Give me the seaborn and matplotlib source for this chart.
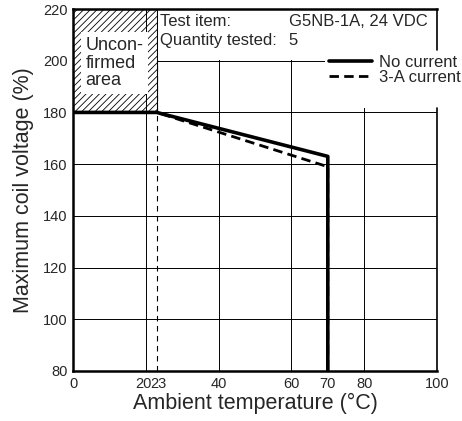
import numpy as np
import pandas as pd
import matplotlib
matplotlib.use('Agg')
import matplotlib.pyplot as plt
import matplotlib.transforms as mtransforms
from matplotlib.patches import Rectangle
import seaborn as sns

# data
temp_no_current = [0, 23, 70, 70]
volt_no_current = [180, 180, 163, 80]
temp_3a_current = [0, 23, 70, 70]
volt_3a_current = [180, 180, 159, 80]

x_ticks = [0, 20, 23, 40, 60, 70, 80, 100]
y_ticks = [80, 100, 120, 140, 160, 180, 200, 220]
x_grid = [20, 40, 60, 80]
y_grid = [100, 120, 140, 160, 180, 200]

sns.set_style('white')
plt.rcParams['font.family'] = ['Liberation Sans', 'DejaVu Sans']
plt.rcParams['hatch.linewidth'] = 0.6

fig = plt.figure(figsize=(4.62, 4.21), dpi=100)
ax = fig.add_axes([73 / 462, 1 - 371 / 421, 364 / 462, 362 / 421])

# grid
for xv in x_grid:
    ax.axvline(xv, color='black', lw=0.7, zorder=1)
for yv in y_grid:
    ax.axhline(yv, color='black', lw=0.7, zorder=1)
ax.axvline(23, color='black', lw=0.8, ls=(0, (5, 4)), zorder=1)

# unconfirmed area (hatched)
ax.add_patch(Rectangle((0, 180), 23, 40, facecolor='white', edgecolor='black',
                       hatch='/////', lw=0.8, zorder=2))
ax.axvline(20, ymin=100 / 140, color='black', lw=0.7, zorder=3)
ax.text(3.4, 199.0, 'Uncon-\nfirmed\narea', fontsize=13, va='center', ha='left',
        linespacing=1.05, zorder=4,
        bbox=dict(facecolor='white', edgecolor='none', pad=3.5))

# blank areas behind the texts
ax.add_patch(Rectangle((23.3, 200.4), 77, 20, facecolor='white', edgecolor='none', zorder=2))
ax.add_patch(Rectangle((69.3, 181.7), 31, 22.5, facecolor='white', edgecolor='none',
                       zorder=2, clip_on=False))

df_no = pd.DataFrame({'x': temp_no_current, 'y': volt_no_current})
df_3a = pd.DataFrame({'x': temp_3a_current, 'y': volt_3a_current})
sns.lineplot(data=df_3a, x='x', y='y', sort=False, estimator=None, ax=ax,
             color='black', lw=2.0, label='3-A current', zorder=5)
ax.lines[-1].set_linestyle((0, (3.4, 1.9)))
sns.lineplot(data=df_no, x='x', y='y', sort=False, estimator=None, ax=ax,
             color='black', lw=2.6, label='No current', zorder=6)

ax.set_xlim(0, 100)
ax.set_ylim(80, 220)
ax.set_xticks(x_ticks)
ax.set_xticklabels(['0', '20', '23', '40', '60', '70', '80', '100'])
ax.set_yticks(y_ticks)
ax.tick_params(length=0, labelsize=10.5, pad=4)
# nudge the crowded 20 / 23 labels apart
for lbl, dx in zip(ax.get_xticklabels(), [0, -2, 2, 0, 0, 0, 0, 0]):
    lbl.set_transform(lbl.get_transform() +
                      mtransforms.ScaledTranslation(dx / 100, 0, fig.dpi_scale_trans))

ax.set_xlabel('Ambient temperature (°C)', fontsize=15.5, labelpad=2)
ax.set_ylabel('Maximum coil voltage (%)', fontsize=15.5, labelpad=6)

for side in ['left', 'bottom', 'top']:
    ax.spines[side].set_linewidth(1.8)
    ax.spines[side].set_color('black')
# right border has a gap where the legend sits
ax.spines['right'].set_visible(False)
ax.axvline(100, ymin=0, ymax=(181.7 - 80) / 140, color='black', lw=1.2,
           clip_on=False, zorder=3)
ax.axvline(100, ymin=(204 - 80) / 140, ymax=1, color='black', lw=1.2,
           clip_on=False, zorder=3)

ax.text(24.0, 215, 'Test item:', fontsize=12, va='center', zorder=4)
ax.text(24.0, 208, 'Quantity tested:', fontsize=12, va='center', zorder=4)
ax.text(59.3, 215, 'G5NB-1A, 24 VDC', fontsize=12, va='center', zorder=4)
ax.text(59.3, 208, '5', fontsize=12, va='center', zorder=4)

handles, labels = ax.get_legend_handles_labels()
ax.legend(handles[::-1], labels[::-1], loc='upper right',
          bbox_to_anchor=(1.097, 0.905), frameon=False, fontsize=12,
          handlelength=2.6, handletextpad=0.4, labelspacing=0.0,
          borderpad=0.2)

fig.savefig('out.png', dpi=100)
